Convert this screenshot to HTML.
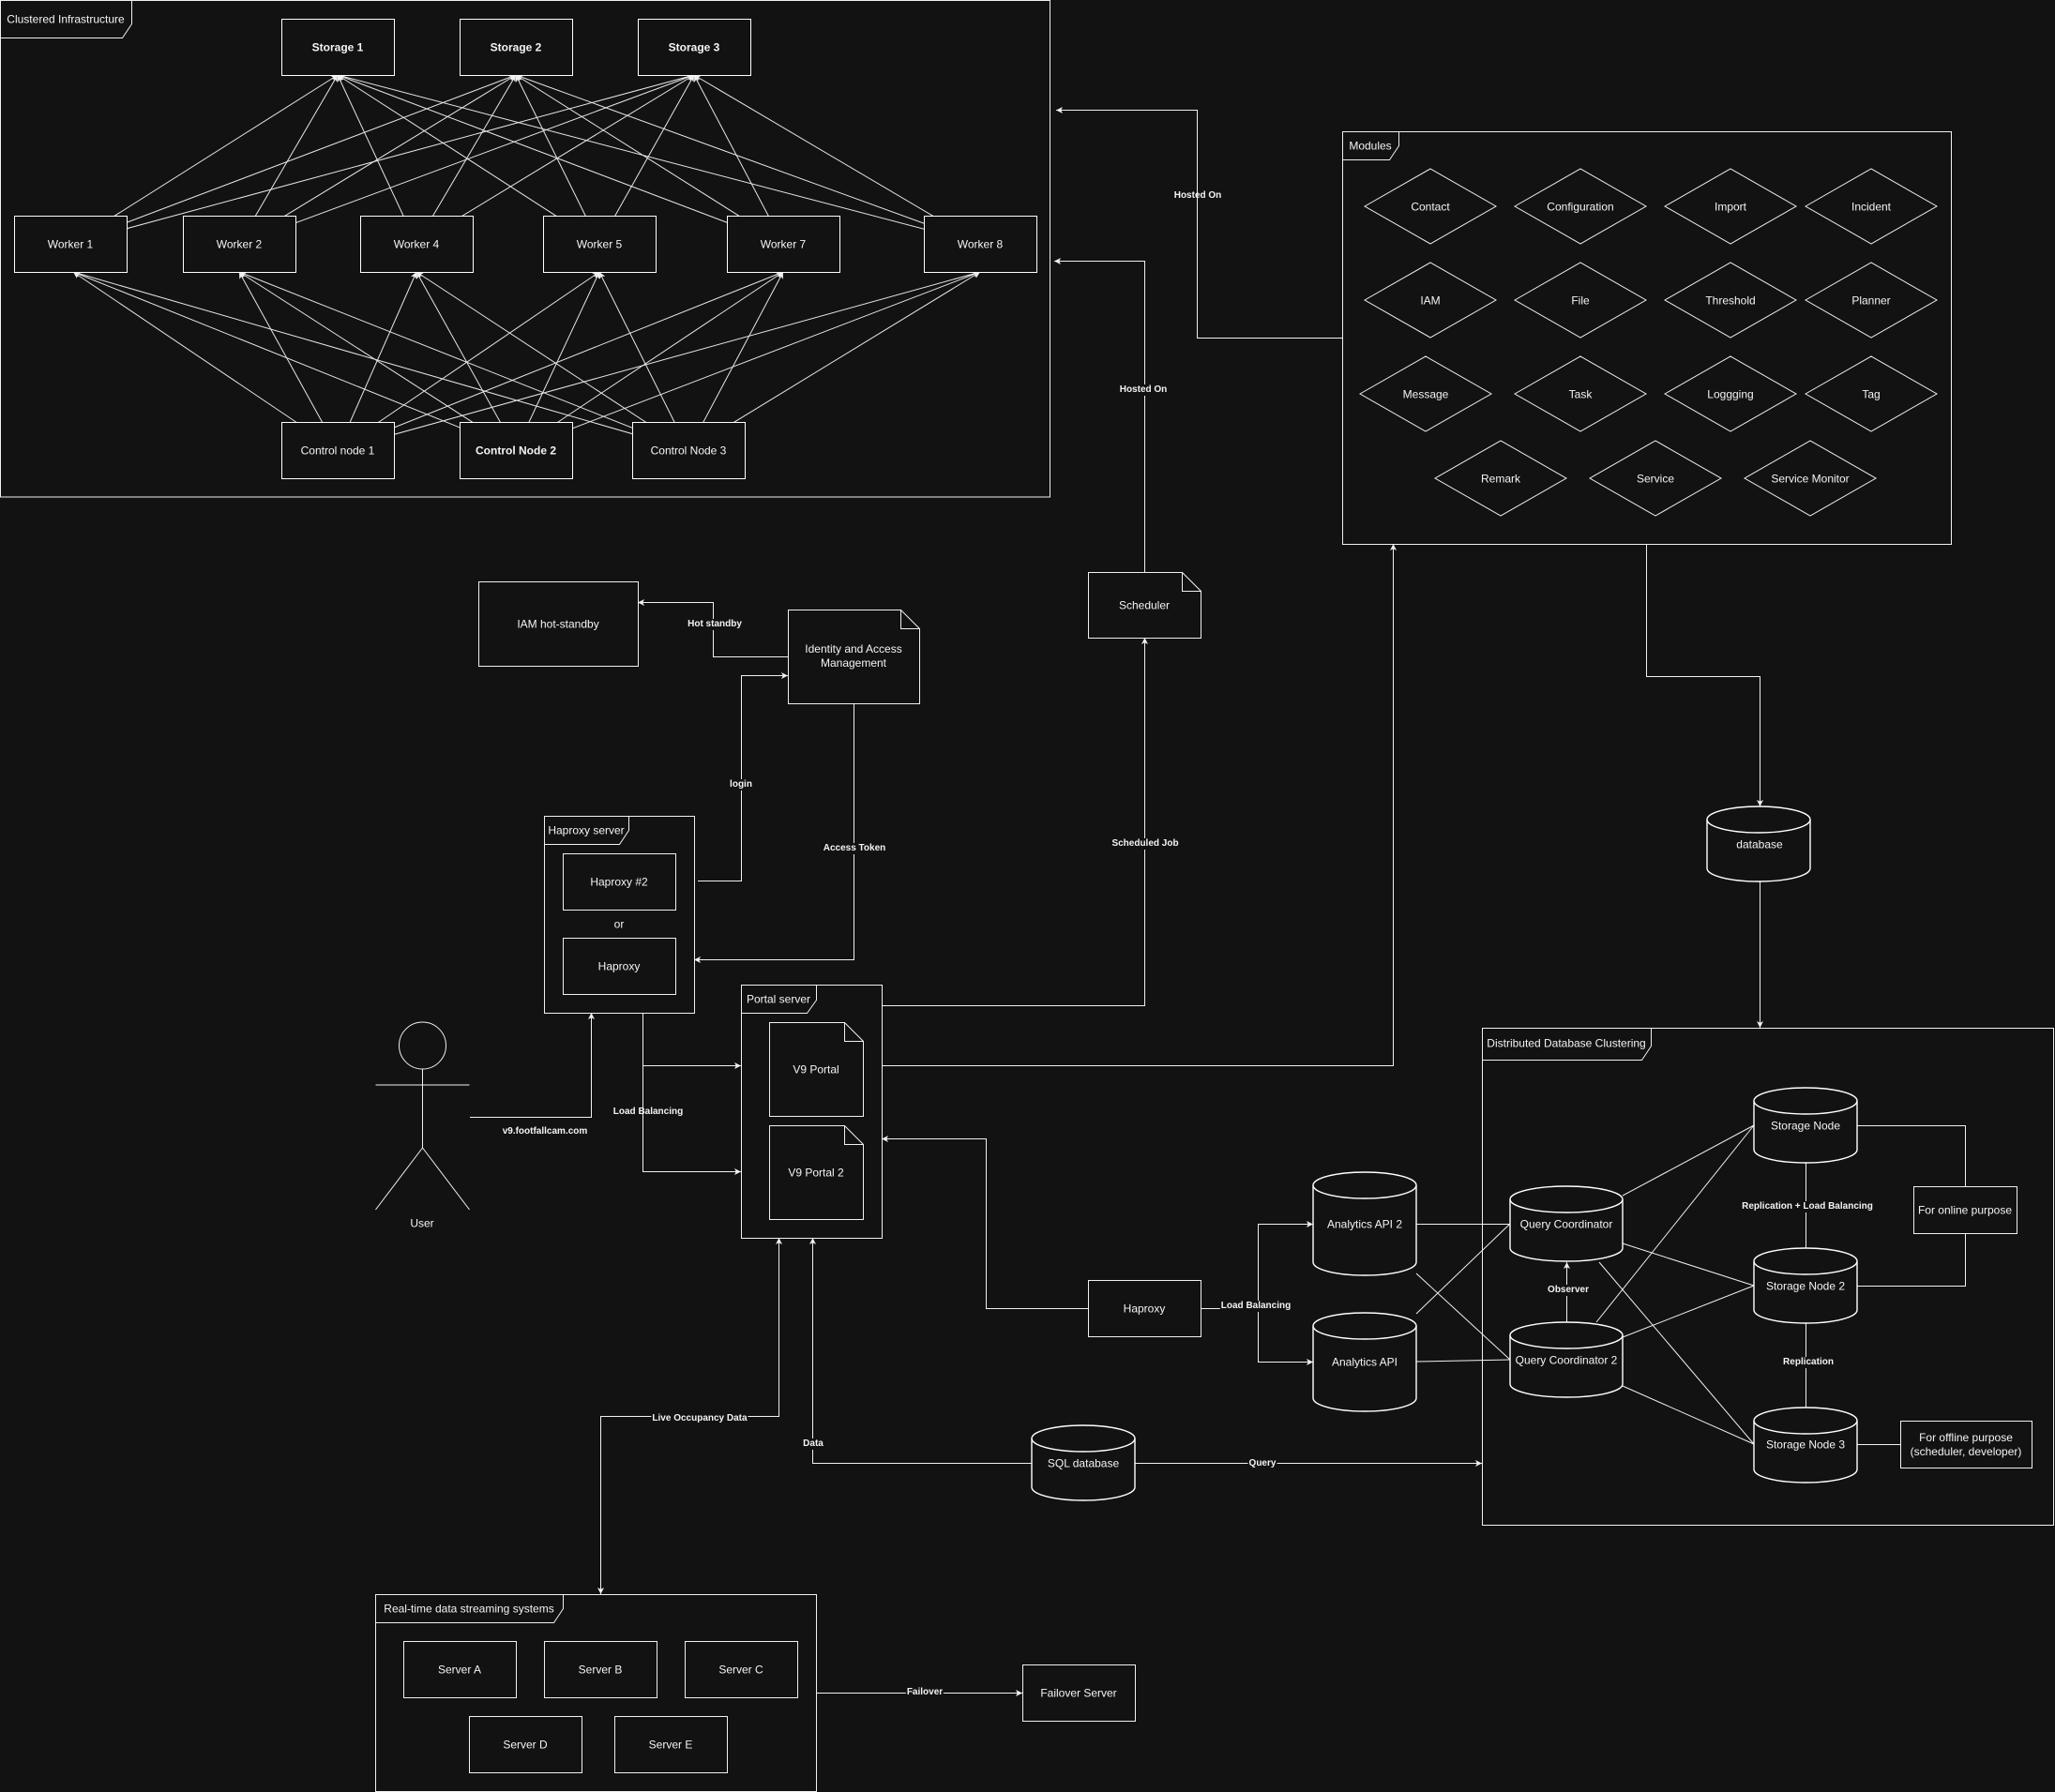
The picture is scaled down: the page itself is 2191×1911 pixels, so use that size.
<!DOCTYPE html>
<html><head><meta charset="utf-8"><style>
html,body{margin:0;padding:0;background:#121212;}
#c{position:relative;width:2191px;height:1911px;overflow:hidden;background:#121212;}
svg{position:absolute;left:0;top:0;}
.t{position:absolute;transform:translate(-50%,-50%);white-space:nowrap;font-family:"Liberation Sans",Arial,sans-serif;font-size:12px;color:#f4f4f4;text-align:center;line-height:15px;}
.b{font-weight:bold;}
.l{font-size:10px;font-weight:bold;line-height:12px;background:#121212;padding:0 1px;}
.n{background:transparent;}
</style></head><body><div id="c">
<svg width="2191" height="1911" viewBox="0 0 2191 1911" xmlns="http://www.w3.org/2000/svg">
<defs>
<marker id="a" viewBox="0 0 7 7" refX="7" refY="3.5" markerWidth="7" markerHeight="7" markerUnits="userSpaceOnUse" orient="auto-start-reverse"><path d="M7,3.5 L0,0 L1.75,3.5 L0,7 Z" fill="#f0f0f0"/></marker>
</defs>
<g fill="none" stroke="#f0f0f0" stroke-width="1">
<!-- Clustered infrastructure frame -->
<rect x="0.5" y="0.5" width="1119" height="529.5"/>
<path d="M0.5,40.5 H130.5 L140.5,25.5 V0.5"/>
<!-- worker -> storage lines -->
<g marker-end="url(#a)" stroke="#e6e6e6">
<line x1="75" y1="260" x2="360" y2="80"/><line x1="75" y1="260" x2="550" y2="80"/><line x1="75" y1="260" x2="740" y2="80"/>
<line x1="255" y1="260" x2="360" y2="80"/><line x1="255" y1="260" x2="550" y2="80"/><line x1="255" y1="260" x2="740" y2="80"/>
<line x1="444" y1="260" x2="360" y2="80"/><line x1="444" y1="260" x2="550" y2="80"/><line x1="444" y1="260" x2="740" y2="80"/>
<line x1="639" y1="260" x2="360" y2="80"/><line x1="639" y1="260" x2="550" y2="80"/><line x1="639" y1="260" x2="740" y2="80"/>
<line x1="835" y1="260" x2="360" y2="80"/><line x1="835" y1="260" x2="550" y2="80"/><line x1="835" y1="260" x2="740" y2="80"/>
<line x1="1045" y1="260" x2="360" y2="80"/><line x1="1045" y1="260" x2="550" y2="80"/><line x1="1045" y1="260" x2="740" y2="80"/>
<!-- control -> worker lines -->
<line x1="360" y1="480" x2="78" y2="290"/><line x1="360" y1="480" x2="255" y2="290"/><line x1="360" y1="480" x2="444" y2="290"/><line x1="360" y1="480" x2="639" y2="290"/><line x1="360" y1="480" x2="835" y2="290"/><line x1="360" y1="480" x2="1045" y2="290"/>
<line x1="550" y1="480" x2="78" y2="290"/><line x1="550" y1="480" x2="255" y2="290"/><line x1="550" y1="480" x2="444" y2="290"/><line x1="550" y1="480" x2="639" y2="290"/><line x1="550" y1="480" x2="835" y2="290"/><line x1="550" y1="480" x2="1045" y2="290"/>
<line x1="734" y1="480" x2="78" y2="290"/><line x1="734" y1="480" x2="255" y2="290"/><line x1="734" y1="480" x2="444" y2="290"/><line x1="734" y1="480" x2="639" y2="290"/><line x1="734" y1="480" x2="835" y2="290"/><line x1="734" y1="480" x2="1045" y2="290"/>
</g>
<g fill="#121212" stroke="#ffffff">
<rect x="300.5" y="20.5" width="120" height="60"/><rect x="490.5" y="20.5" width="120" height="60"/><rect x="680.5" y="20.5" width="120" height="60"/>
<rect x="15.5" y="230.5" width="120" height="60"/><rect x="195.5" y="230.5" width="120" height="60"/><rect x="384.5" y="230.5" width="120" height="60"/>
<rect x="579.5" y="230.5" width="120" height="60"/><rect x="775.5" y="230.5" width="120" height="60"/><rect x="985.5" y="230.5" width="120" height="60"/>
<rect x="300.5" y="450.5" width="120" height="60"/><rect x="490.5" y="450.5" width="120" height="60"/><rect x="674.5" y="450.5" width="120" height="60"/>
</g>

<!-- Modules -->
<rect x="1431.5" y="140.5" width="649" height="440"/>
<path d="M1431.5,170.5 H1481.5 L1491.5,155.5 V140.5"/>
<g>
<polygon points="1455,220 1525,180 1595,220 1525,260"/>
<polygon points="1615,220 1685,180 1755,220 1685,260"/>
<polygon points="1775,220 1845,180 1915,220 1845,260"/>
<polygon points="1925,220 1995,180 2065,220 1995,260"/>
<polygon points="1455,320 1525,280 1595,320 1525,360"/>
<polygon points="1615,320 1685,280 1755,320 1685,360"/>
<polygon points="1775,320 1845,280 1915,320 1845,360"/>
<polygon points="1925,320 1995,280 2065,320 1995,360"/>
<polygon points="1450,420 1520,380 1590,420 1520,460"/>
<polygon points="1615,420 1685,380 1755,420 1685,460"/>
<polygon points="1775,420 1845,380 1915,420 1845,460"/>
<polygon points="1925,420 1995,380 2065,420 1995,460"/>
<polygon points="1530,510 1600,470 1670,510 1600,550"/>
<polygon points="1695,510 1765,470 1835,510 1765,550"/>
<polygon points="1860,510 1930,470 2000,510 1930,550"/>
</g>

<!-- connectors -->
<g marker-end="url(#a)">
<path d="M1431,360.5 H1276.5 V117.5 H1126"/>
<path d="M1220.5,610 V278.5 H1124"/>
<path d="M940,1136.5 H1485.5 V580"/>
<path d="M1755.5,580 V721.5 H1876.5 V860"/>
<path d="M1876.5,940 V1096"/>
<path d="M840,700.5 H760.5 V642.5 H680"/>
<path d="M744,939.5 H790.5 V720.5 H840"/>
<path d="M910.5,750 V1023.5 H740"/>
<path d="M940,1072.5 H1220.5 V680"/>
<path d="M501,1191.5 H630.5 V1080"/>
<path d="M685.5,1080 V1249.5 H790"/>
<path d="M685.5,1136.5 H790"/>
<path d="M1160,1395.5 H1051.5 V1214.5 H940"/>
<path d="M1280,1395.5 H1341.5 V1305.5 H1400"/>
<path d="M1341.5,1395.5 V1452.5 H1400"/>
<path d="M1100,1560.5 H866.5 V1320"/>
<path d="M1210,1560.5 H1580"/>
<path d="M830.5,1320 V1510.5 H640.5 V1700" marker-start="url(#a)"/>
<path d="M870,1805.5 H1090"/>
<path d="M1670.5,1410 V1346"/>
</g>
<g>
<line x1="1510" y1="1305.5" x2="1610" y2="1305.5"/>
<line x1="1510" y1="1452" x2="1610" y2="1450"/>
<line x1="1510" y1="1358" x2="1610" y2="1450"/>
<line x1="1510" y1="1401" x2="1610" y2="1305"/>
<line x1="1730" y1="1275" x2="1870" y2="1200"/>
<line x1="1730" y1="1326" x2="1870" y2="1371"/>
<line x1="1705" y1="1346" x2="1870" y2="1540"/>
<line x1="1702" y1="1410" x2="1870" y2="1200"/>
<line x1="1730" y1="1426" x2="1870" y2="1371"/>
<line x1="1730" y1="1478" x2="1870" y2="1540"/>
<path d="M1925.5,1240 V1331"/>
<path d="M1925.5,1411 V1501"/>
<path d="M1980,1200.5 H2095.5 V1265"/>
<path d="M1980,1371.5 H2095.5 V1315"/>
<path d="M1980,1540.5 H2026"/>
</g>

<!-- IAM etc -->
<rect x="510.5" y="620.5" width="170" height="90"/>
<path d="M840.5,650.5 H960.5 L980.5,670.5 V750.5 H840.5 Z M960.5,650.5 V670.5 H980.5"/>
<path d="M1160.5,610.5 H1260.5 L1280.5,630.5 V680.5 H1160.5 Z M1260.5,610.5 V630.5 H1280.5"/>
<!-- Haproxy server -->
<rect x="580.5" y="870.5" width="160" height="210"/>
<path d="M580.5,900.5 H660.5 L670.5,885.5 V870.5"/>
<rect x="600.5" y="910.5" width="120" height="60"/>
<rect x="600.5" y="1000.5" width="120" height="60"/>
<!-- Portal server -->
<rect x="790.5" y="1050.5" width="150" height="270"/>
<path d="M790.5,1080.5 H860.5 L870.5,1066.5 V1050.5"/>
<path d="M820.5,1090.5 H900.5 L920.5,1110.5 V1190.5 H820.5 Z M900.5,1090.5 V1110.5 H920.5"/>
<path d="M820.5,1200.5 H900.5 L920.5,1220.5 V1300.5 H820.5 Z M900.5,1200.5 V1220.5 H920.5"/>
<!-- Actor -->
<ellipse cx="450.5" cy="1115" rx="25" ry="25"/>
<path d="M400.5,1157 H500.5 M450.5,1140 V1224 L400.5,1290 M450.5,1224 L500.5,1290"/>
<!-- analytics haproxy -->
<rect x="1160.5" y="1365.5" width="120" height="60"/>
<!-- DDC -->
<rect x="1580.5" y="1096.5" width="609" height="530"/>
<path d="M1580.5,1130.5 H1750.5 L1760.5,1115.5 V1096.5"/>
<rect x="2040.5" y="1265.5" width="110" height="50"/>
<rect x="2026.5" y="1515.5" width="140" height="50"/>
<!-- RTDS -->
<rect x="400.5" y="1700.5" width="470" height="210"/>
<path d="M400.5,1730.5 H590.5 L600.5,1715.5 V1700.5"/>
<rect x="430.5" y="1750.5" width="120" height="60"/>
<rect x="580.5" y="1750.5" width="120" height="60"/>
<rect x="730.5" y="1750.5" width="120" height="60"/>
<rect x="500.5" y="1830.5" width="120" height="60"/>
<rect x="655.5" y="1830.5" width="120" height="60"/>
<rect x="1090.5" y="1775.5" width="120" height="60"/>
</g>
<!-- cylinders -->
<g fill="#121212" stroke="#ffffff" stroke-width="1.4">
<path d="M1820,874 A55,14 0 0 1 1930,874 V926 A55,14 0 0 1 1820,926 Z"/><path d="M1820,874 A55,14 0 0 0 1930,874" fill="none"/>
<path d="M1100,1534 A55,14 0 0 1 1210,1534 V1586 A55,14 0 0 1 1100,1586 Z"/><path d="M1100,1534 A55,14 0 0 0 1210,1534" fill="none"/>
<path d="M1400,1264 A55,14 0 0 1 1510,1264 V1346 A55,14 0 0 1 1400,1346 Z"/><path d="M1400,1264 A55,14 0 0 0 1510,1264" fill="none"/>
<path d="M1400,1414 A55,14 0 0 1 1510,1414 V1491 A55,14 0 0 1 1400,1491 Z"/><path d="M1400,1414 A55,14 0 0 0 1510,1414" fill="none"/>
<path d="M1610,1279 A60,14 0 0 1 1730,1279 V1331 A60,14 0 0 1 1610,1331 Z"/><path d="M1610,1279 A60,14 0 0 0 1730,1279" fill="none"/>
<path d="M1610,1424 A60,14 0 0 1 1730,1424 V1476 A60,14 0 0 1 1610,1476 Z"/><path d="M1610,1424 A60,14 0 0 0 1730,1424" fill="none"/>
<path d="M1870,1174 A55,14 0 0 1 1980,1174 V1226 A55,14 0 0 1 1870,1226 Z"/><path d="M1870,1174 A55,14 0 0 0 1980,1174" fill="none"/>
<path d="M1870,1345 A55,14 0 0 1 1980,1345 V1397 A55,14 0 0 1 1870,1397 Z"/><path d="M1870,1345 A55,14 0 0 0 1980,1345" fill="none"/>
<path d="M1870,1515 A55,14 0 0 1 1980,1515 V1567 A55,14 0 0 1 1870,1567 Z"/><path d="M1870,1515 A55,14 0 0 0 1980,1515" fill="none"/>
</g>
</svg>

<!-- text -->
<div class="t" style="left:70px;top:21px">Clustered Infrastructure</div>
<div class="t b" style="left:360px;top:51px">Storage 1</div>
<div class="t b" style="left:550px;top:51px">Storage 2</div>
<div class="t b" style="left:740px;top:51px">Storage 3</div>
<div class="t" style="left:75px;top:261px">Worker 1</div>
<div class="t" style="left:255px;top:261px">Worker 2</div>
<div class="t" style="left:444px;top:261px">Worker 4</div>
<div class="t" style="left:639px;top:261px">Worker 5</div>
<div class="t" style="left:835px;top:261px">Worker 7</div>
<div class="t" style="left:1045px;top:261px">Worker 8</div>
<div class="t" style="left:360px;top:481px">Control node 1</div>
<div class="t b" style="left:550px;top:481px">Control Node 2</div>
<div class="t" style="left:734px;top:481px">Control Node 3</div>

<div class="t" style="left:1461px;top:156px">Modules</div>
<div class="t" style="left:1525px;top:221px">Contact</div>
<div class="t" style="left:1685px;top:221px">Configuration</div>
<div class="t" style="left:1845px;top:221px">Import</div>
<div class="t" style="left:1995px;top:221px">Incident</div>
<div class="t" style="left:1525px;top:321px">IAM</div>
<div class="t" style="left:1685px;top:321px">File</div>
<div class="t" style="left:1845px;top:321px">Threshold</div>
<div class="t" style="left:1995px;top:321px">Planner</div>
<div class="t" style="left:1520px;top:421px">Message</div>
<div class="t" style="left:1685px;top:421px">Task</div>
<div class="t" style="left:1845px;top:421px">Loggging</div>
<div class="t" style="left:1995px;top:421px">Tag</div>
<div class="t" style="left:1600px;top:511px">Remark</div>
<div class="t" style="left:1765px;top:511px">Service</div>
<div class="t" style="left:1930px;top:511px">Service Monitor</div>

<div class="t l n" style="left:1277px;top:209px">Hosted On</div>
<div class="t l" style="left:1219px;top:416px">Hosted On</div>

<div class="t" style="left:595px;top:666px">IAM hot-standby</div>
<div class="t" style="left:910px;top:700px">Identity and Access<br>Management</div>
<div class="t" style="left:1220px;top:646px">Scheduler</div>
<div class="t l" style="left:762px;top:666px">Hot standby</div>
<div class="t l" style="left:790px;top:837px">login</div>
<div class="t l" style="left:911px;top:905px">Access Token</div>
<div class="t l" style="left:1221px;top:900px">Scheduled Job</div>

<div class="t" style="left:625px;top:886px">Haproxy server</div>
<div class="t" style="left:660px;top:941px">Haproxy #2</div>
<div class="t" style="left:660px;top:986px">or</div>
<div class="t" style="left:660px;top:1031px">Haproxy</div>
<div class="t" style="left:830px;top:1066px">Portal server</div>
<div class="t" style="left:870px;top:1141px">V9 Portal</div>
<div class="t" style="left:870px;top:1251px">V9 Portal 2</div>
<div class="t" style="left:450px;top:1305px">User</div>
<div class="t l n" style="left:581px;top:1207px">v9.footfallcam.com</div>
<div class="t l n" style="left:691px;top:1186px">Load Balancing</div>

<div class="t" style="left:1220px;top:1396px">Haproxy</div>
<div class="t l" style="left:1339px;top:1393px">Load Balancing</div>
<div class="t" style="left:1455px;top:1306px">Analytics API 2</div>
<div class="t" style="left:1455px;top:1453px">Analytics API</div>
<div class="t" style="left:1670px;top:1306px">Query Coordinator</div>
<div class="t" style="left:1670px;top:1451px">Query Coordinator 2</div>
<div class="t l" style="left:1672px;top:1376px">Observer</div>
<div class="t" style="left:1925px;top:1201px">Storage Node</div>
<div class="t" style="left:1925px;top:1372px">Storage Node 2</div>
<div class="t" style="left:1925px;top:1541px">Storage Node 3</div>
<div class="t l" style="left:1927px;top:1287px">Replication + Load Balancing</div>
<div class="t l" style="left:1928px;top:1453px">Replication</div>
<div class="t" style="left:2095px;top:1291px">For online purpose</div>
<div class="t" style="left:2096px;top:1541px">For offline purpose<br>(scheduler, developer)</div>
<div class="t" style="left:1670px;top:1113px">Distributed Database Clustering</div>
<div class="t" style="left:1876px;top:901px">database</div>
<div class="t" style="left:1155px;top:1561px">SQL database</div>
<div class="t l" style="left:1346px;top:1561px">Query</div>
<div class="t l" style="left:867px;top:1540px">Data</div>
<div class="t l" style="left:746px;top:1513px">Live Occupancy Data</div>

<div class="t" style="left:500px;top:1716px">Real-time data streaming systems</div>
<div class="t" style="left:490px;top:1781px">Server A</div>
<div class="t" style="left:640px;top:1781px">Server B</div>
<div class="t" style="left:790px;top:1781px">Server C</div>
<div class="t" style="left:560px;top:1861px">Server D</div>
<div class="t" style="left:715px;top:1861px">Server E</div>
<div class="t" style="left:1150px;top:1806px">Failover Server</div>
<div class="t l" style="left:986px;top:1805px">Failover</div>
</div></body></html>
